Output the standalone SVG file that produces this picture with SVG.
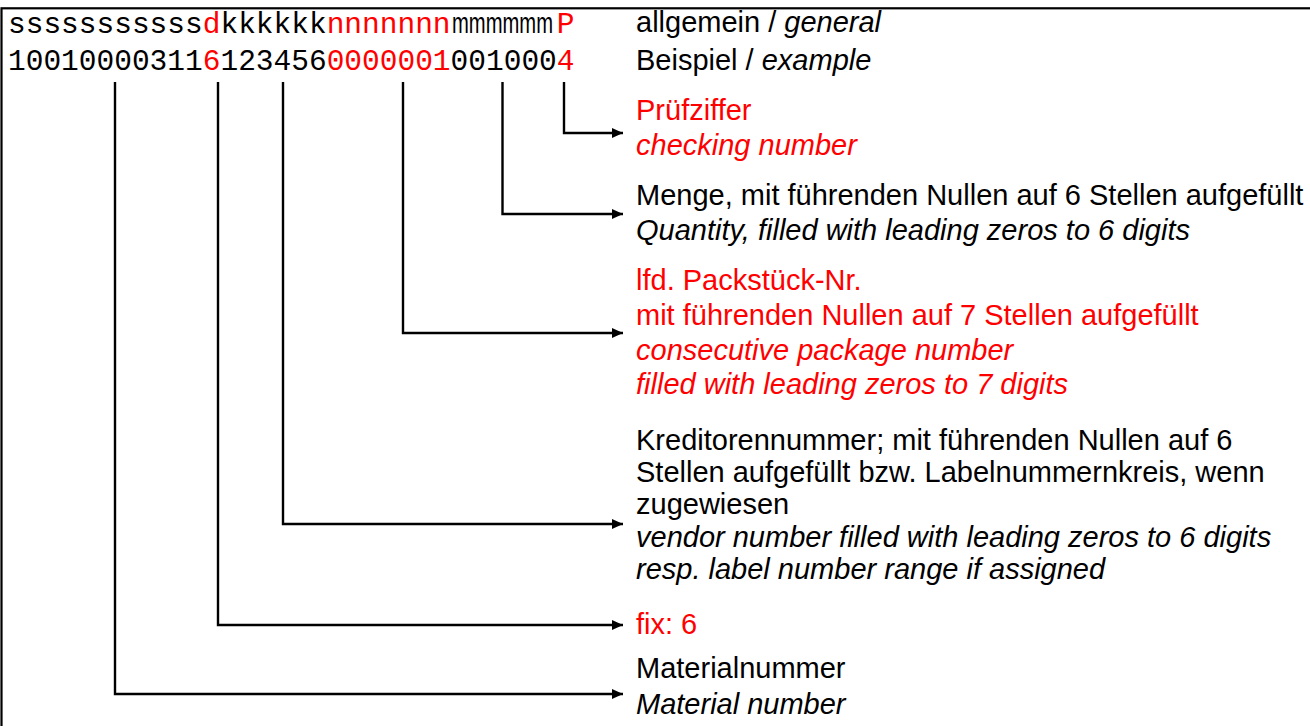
<svg xmlns="http://www.w3.org/2000/svg" width="1310" height="726" viewBox="0 0 1310 726">
<style>
.mono{font-family:"Liberation Mono","Courier New",monospace;font-size:29.5px;fill:#000}
.msans{font-family:"Liberation Sans",Arial,sans-serif;font-size:29px;fill:#000}
.t{font-family:"Liberation Sans",Arial,sans-serif;font-size:29px;fill:#000}
.r{fill:#ff0000}
.i{font-style:italic}
.conn{fill:none;stroke:#000;stroke-width:2.4}
</style>
<defs>
<marker id="ah" markerUnits="userSpaceOnUse" markerWidth="12" markerHeight="10" refX="11" refY="5" orient="auto"><path d="M0,0 L11,5 L0,10 z" fill="#000"/></marker>
</defs>
<rect x="0" y="0" width="1310" height="726" fill="#fff"/>
<rect id="frame" x="1.5" y="8.3" width="1400" height="800" fill="#fff" stroke="#000" stroke-width="2.2"/>

<g id="code-general">
<text class="mono" x="8" y="32.5">sssssssssss<tspan class="r">d</tspan>kkkkkk<tspan class="r">nnnnnnn</tspan></text>
<text class="msans" x="452" y="32.5" textLength="101" lengthAdjust="spacingAndGlyphs">mmmmmm</text>
<text class="mono r" x="556.7" y="32.5">P</text>
</g>
<g id="code-example">
<text class="mono" x="8" y="70">10010000311<tspan class="r">6</tspan>123456<tspan class="r">0000001</tspan>001000<tspan class="r">4</tspan></text>
</g>

<g id="legend-general"><text class="t" x="636" y="32">allgemein / <tspan class="i">general</tspan></text></g>
<g id="legend-example"><text class="t" x="636" y="70">Beispiel / <tspan class="i">example</tspan></text></g>

<g id="node-pruefziffer">
<text class="t r" x="636" y="120">Prüfziffer</text>
<text class="t r i" x="636" y="155">checking number</text>
</g>
<g id="node-menge">
<text class="t" x="636" y="205">Menge, mit führenden Nullen auf 6 Stellen aufgefüllt</text>
<text class="t i" x="636" y="240">Quantity, filled with leading zeros to 6 digits</text>
</g>
<g id="node-packstueck">
<text class="t r" x="636" y="290">lfd. Packstück-Nr.</text>
<text class="t r" x="636" y="325">mit führenden Nullen auf 7 Stellen aufgefüllt</text>
<text class="t r i" x="636" y="360">consecutive package number</text>
<text class="t r i" x="636" y="394">filled with leading zeros to 7 digits</text>
</g>
<g id="node-kreditor">
<text class="t" x="636" y="450">Kreditorennummer; mit führenden Nullen auf 6</text>
<text class="t" x="636" y="482">Stellen aufgefüllt bzw. Labelnummernkreis, wenn</text>
<text class="t" x="636" y="514">zugewiesen</text>
<text class="t i" x="636" y="547">vendor number filled with leading zeros to 6 digits</text>
<text class="t i" x="636" y="579">resp. label number range if assigned</text>
</g>
<g id="node-fix">
<text class="t r" x="636" y="634">fix: 6</text>
</g>
<g id="node-material">
<text class="t" x="636" y="678">Materialnummer</text>
<text class="t i" x="636" y="714">Material number</text>
</g>

<g id="connectors">
<path class="conn" d="M564,82 V133 H623" marker-end="url(#ah)"/>
<path class="conn" d="M502.5,82 V214 H623" marker-end="url(#ah)"/>
<path class="conn" d="M403,82 V333 H623" marker-end="url(#ah)"/>
<path class="conn" d="M283,82 V524 H623" marker-end="url(#ah)"/>
<path class="conn" d="M218,82 V625 H623" marker-end="url(#ah)"/>
<path class="conn" d="M115,82 V694 H623" marker-end="url(#ah)"/>
</g>
</svg>
